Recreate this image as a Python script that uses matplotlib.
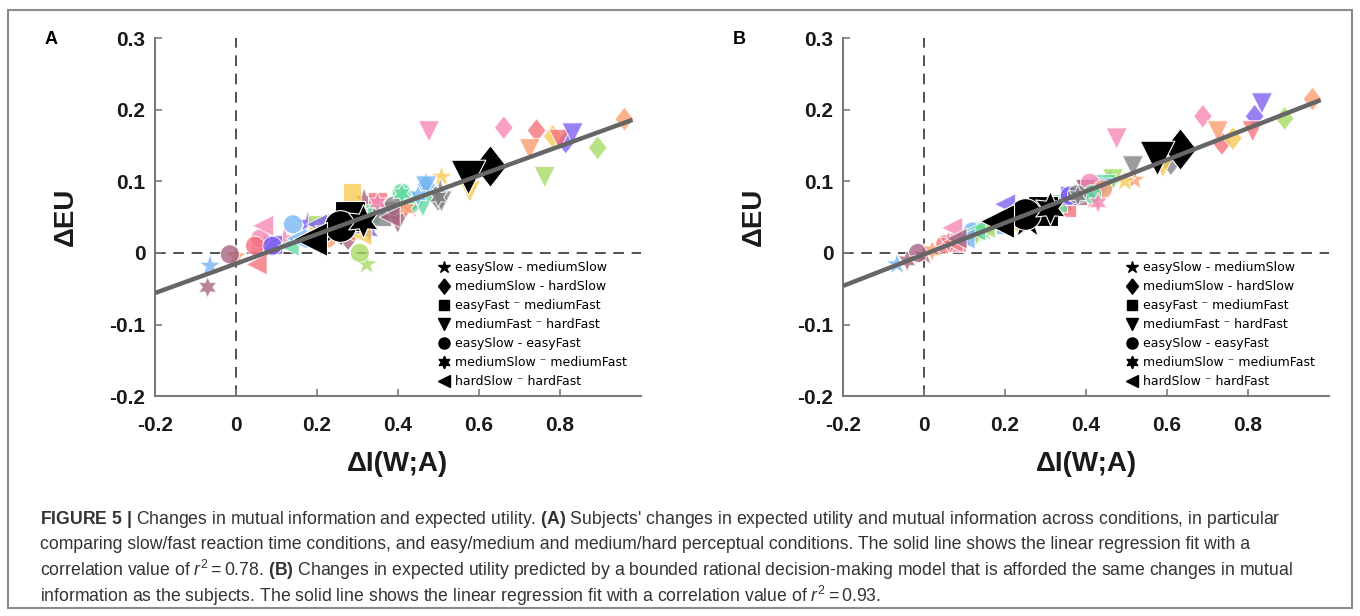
import numpy as np
import matplotlib
matplotlib.use("Agg")
import matplotlib.pyplot as plt
from matplotlib.lines import Line2D
from matplotlib.patches import Rectangle

plt.rcParams["axes.unicode_minus"] = False
plt.rcParams["mathtext.fontset"] = "custom"
plt.rcParams["mathtext.rm"] = "Liberation Sans"
plt.rcParams["mathtext.bf"] = "Liberation Sans:bold"
plt.rcParams["mathtext.it"] = "Liberation Sans:italic"

# --- data ---
conditions = ["easySlow - mediumSlow", "mediumSlow - hardSlow", "easyFast \u207b mediumFast",
              "mediumFast \u207b hardFast", "easySlow - easyFast", "mediumSlow \u207b mediumFast",
              "hardSlow \u207b hardFast"]
subject_colors = ["#F585B2", "#F6707A", "#FA9D6C", "#F8C94F", "#A6DA62",
                  "#5FD9A0", "#73B4F5", "#7C5EF0", "#A6617F", "#808080"]

# panel A: one row per condition, one value per subject (same colour order)
a_dI = [
    [0.12, 0.43, 0.00, 0.508, 0.323, 0.25, -0.064, 0.178, 0.317, 0.505],
    [0.662, 0.743, 0.96, 0.783, 0.894, 0.44, 0.47, 0.815, 0.277, 0.50],
    [0.06, 0.35, 0.24, 0.287, 0.20, 0.33, 0.30, 0.09, 0.38, 0.36],
    [0.477, 0.80, 0.726, 0.578, 0.763, 0.462, 0.47, 0.832, 0.40, 0.508],
    [0.06, 0.047, 0.225, 0.26, 0.306, 0.41, 0.141, 0.09, -0.015, 0.39],
    [0.35, 0.23, 0.42, 0.20, 0.28, 0.41, 0.45, 0.33, -0.07, 0.50],
    [0.067, 0.051, 0.27, 0.31, 0.22, 0.13, 0.15, 0.20, 0.38, 0.28],
]
a_dEU = [
    [0.02, 0.062, -0.005, 0.106, -0.016, 0.05, -0.018, 0.042, 0.075, 0.088],
    [0.175, 0.171, 0.187, 0.163, 0.147, 0.07, 0.095, 0.155, 0.02, 0.075],
    [0.01, 0.072, 0.03, 0.084, 0.04, 0.055, 0.05, 0.012, 0.06, 0.05],
    [0.170, 0.158, 0.145, 0.086, 0.106, 0.065, 0.093, 0.167, 0.042, 0.072],
    [0.02, 0.010, 0.020, 0.03, 0.0, 0.084, 0.040, 0.010, -0.002, 0.066],
    [0.07, 0.03, 0.062, 0.03, 0.045, 0.083, 0.08, 0.03, -0.048, 0.078],
    [0.038, -0.016, 0.03, 0.025, 0.035, 0.01, 0.02, 0.04, 0.05, 0.04],
]
a_mean_dI = [0.237, 0.627, 0.281, 0.573, 0.257, 0.314, 0.183]
a_mean_dEU = [0.031, 0.121, 0.052, 0.106, 0.038, 0.045, 0.020]
a_fit = (0.205, -0.015)

# panel B: model predictions
b_dI = [
    [0.10, 0.42, 0.52, 0.496, 0.30, 0.15, -0.067, 0.22, 0.00, 0.35],
    [0.689, 0.736, 0.96, 0.763, 0.891, 0.46, 0.45, 0.817, 0.42, 0.61],
    [0.08, 0.353, 0.26, 0.32, 0.30, 0.33, 0.20, 0.36, 0.38, 0.40],
    [0.476, 0.812, 0.726, 0.59, 0.467, 0.45, 0.44, 0.835, 0.40, 0.516],
    [0.41, 0.052, 0.442, 0.25, 0.14, 0.415, 0.12, 0.36, -0.015, 0.378],
    [0.43, 0.06, 0.02, 0.22, 0.13, 0.15, 0.27, 0.20, -0.042, 0.38],
    [0.069, 0.07, 0.20, 0.22, 0.15, 0.126, 0.10, 0.20, 0.08, 0.25],
]
b_dEU = [
    [0.02, 0.075, 0.102, 0.100, 0.06, 0.03, -0.016, 0.05, -0.003, 0.07],
    [0.191, 0.153, 0.215, 0.160, 0.188, 0.10, 0.095, 0.191, 0.09, 0.125],
    [0.015, 0.063, 0.055, 0.065, 0.06, 0.07, 0.04, 0.08, 0.08, 0.09],
    [0.160, 0.170, 0.170, 0.12, 0.103, 0.095, 0.09, 0.209, 0.088, 0.121],
    [0.098, 0.012, 0.089, 0.05, 0.03, 0.082, 0.03, 0.08, 0.0, 0.082],
    [0.07, 0.015, 0.003, 0.05, 0.025, 0.035, 0.06, 0.045, -0.011, 0.08],
    [0.035, 0.015, 0.045, 0.04, 0.035, 0.031, 0.02, 0.068, 0.02, 0.05],
]
b_mean_dI = [0.254, 0.632, 0.294, 0.575, 0.249, 0.31, 0.18]
b_mean_dEU = [0.045, 0.145, 0.059, 0.133, 0.054, 0.063, 0.045]
b_fit = (0.22, -0.002)

# markers per condition (6-point star for mediumSlow-mediumFast)
diamond = [(0, 1), (0.78, 0), (0, -1), (-0.78, 0), (0, 1)]
markers = ["*", diamond, "s", "v", "o", (6, 1, 0), "<"]
sub_size = [280, 300, 180, 230, 190, 230, 230]
mean_size = [700, 900, 470, 620, 520, 600, 600]

fig = plt.figure(figsize=(13.6, 6.16), dpi=100)


def draw_panel(rect, letter, dI, dEU, mean_dI, mean_dEU, fit):
    ax = fig.add_axes(rect)
    ax.axvline(0, color="#222222", lw=1.1, ls=(0, (7, 5)), zorder=1)
    ax.axhline(0, color="#222222", lw=1.1, ls=(0, (7, 5)), zorder=1)

    for c in range(len(conditions)):
        ax.scatter(dI[c], dEU[c], s=sub_size[c], marker=markers[c], c=subject_colors,
                   alpha=0.78, edgecolors="white", linewidths=0.8, zorder=2)
    for c in range(len(conditions)):
        ax.scatter(mean_dI[c], mean_dEU[c], s=mean_size[c], marker=markers[c], c="black",
                   edgecolors="white", linewidths=0.8, zorder=3)

    xmax = max(max(row) for row in dI) + 0.02
    xs = np.array([-0.2, xmax])
    ax.plot(xs, fit[0] * xs + fit[1], color="#666666", lw=3.2, zorder=4, solid_capstyle="butt")

    ax.set_xlim(-0.2, 1.0)
    ax.set_ylim(-0.2, 0.3)
    ax.set_xticks([-0.2, 0, 0.2, 0.4, 0.6, 0.8])
    ax.set_xticklabels(["-0.2", "0", "0.2", "0.4", "0.6", "0.8"])
    ax.set_yticks([-0.2, -0.1, 0, 0.1, 0.2, 0.3])
    ax.set_yticklabels(["-0.2", "-0.1", "0", "0.1", "0.2", "0.3"])
    for s in ["top", "right"]:
        ax.spines[s].set_visible(False)
    for s in ["left", "bottom"]:
        ax.spines[s].set_color("#7a7a7a")
        ax.spines[s].set_linewidth(1.5)
    ax.tick_params(direction="in", length=5, width=1.2, color="#7a7a7a",
                   labelcolor="#1a1a1a", labelsize=15)
    ax.tick_params(axis="x", pad=14)
    ax.tick_params(axis="y", pad=7)
    for lab in ax.get_xticklabels() + ax.get_yticklabels():
        lab.set_fontweight("bold")
        lab.set_family("Liberation Sans")
    ax.set_xlabel("\u0394I(W;A)", fontsize=20, fontweight="bold", family="Liberation Sans",
                  color="#1a1a1a", labelpad=12)
    ax.set_ylabel("\u0394EU", fontsize=20, fontweight="bold", family="Liberation Sans",
                  color="#1a1a1a", labelpad=22)

    handles = [Line2D([], [], ls="none", marker=markers[i], color="black",
                      markersize=[9, 11, 7, 8, 8, 9, 8][i]) for i in range(len(conditions))]
    ax.legend(handles, conditions, loc="upper left", bbox_to_anchor=(0.57, 0.395),
              frameon=False, prop={"family": "DejaVu Sans", "size": 9},
              handletextpad=0.35, labelspacing=0.48, handlelength=1.0, borderpad=0)

    fig.text(rect[0] - 0.081, 0.928, letter, fontsize=13, fontweight="bold",
             family="Liberation Sans")
    return ax


draw_panel([0.114, 0.357, 0.357, 0.581], "A", a_dI, a_dEU, a_mean_dI, a_mean_dEU, a_fit)
draw_panel([0.620, 0.357, 0.357, 0.581], "B", b_dI, b_dEU, b_mean_dI, b_mean_dEU, b_fit)

# caption
caption = [
    r"$\mathbf{FIGURE\ 5\ |}$ Changes in mutual information and expected utility. $\mathbf{(A)}$ Subjects' changes in expected utility and mutual information across conditions, in particular",
    r"comparing slow/fast reaction time conditions, and easy/medium and medium/hard perceptual conditions. The solid line shows the linear regression fit with a",
    r"correlation value of $r^2 = 0.78$. $\mathbf{(B)}$ Changes in expected utility predicted by a bounded rational decision-making model that is afforded the same changes in mutual",
    r"information as the subjects. The solid line shows the linear regression fit with a correlation value of $r^2 = 0.93$.",
]
for i, line in enumerate(caption):
    fig.text(40 / 1360, 1 - (519 + 25.7 * i) / 616, line, fontsize=12.7, color="#333333",
             family="Liberation Sans", va="center", ha="left")

fig.add_artist(Rectangle((8 / 1360, 8 / 616), 1344 / 1360, 598 / 616, transform=fig.transFigure,
                         fill=False, edgecolor="#8a8a8a", lw=1.5))

fig.savefig("out.png", dpi=100)
